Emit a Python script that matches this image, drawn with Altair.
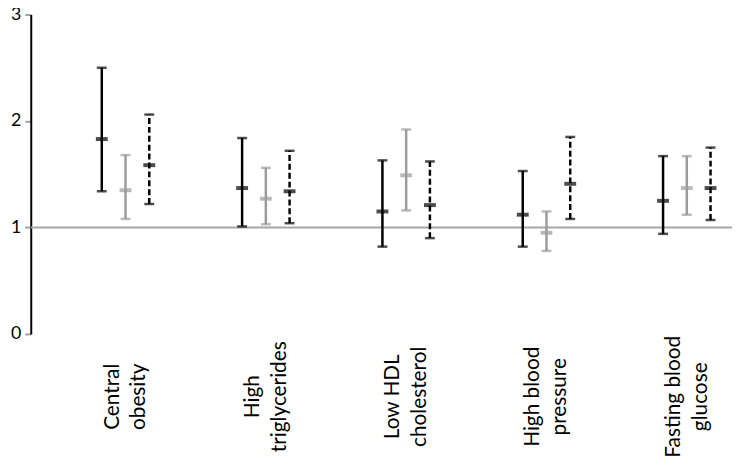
import altair as alt
import pandas as pd

categories = ["Central\nobesity", "High\ntriglycerides", "Low HDL\ncholesterol",
              "High blood\npressure", "Fasting blood\nglucose"]
series = ["Series 1", "Series 2", "Series 3"]

# point estimate, lower, upper for each series
s1_mid = [1.83, 1.37, 1.15, 1.12, 1.25]
s1_lo = [1.34, 1.01, 0.82, 0.82, 0.94]
s1_hi = [2.50, 1.84, 1.63, 1.53, 1.67]

s2_mid = [1.35, 1.27, 1.49, 0.95, 1.37]
s2_lo = [1.08, 1.03, 1.16, 0.78, 1.12]
s2_hi = [1.68, 1.56, 1.92, 1.15, 1.67]

s3_mid = [1.585, 1.34, 1.21, 1.41, 1.37]
s3_lo = [1.22, 1.04, 0.90, 1.08, 1.07]
s3_hi = [2.06, 1.72, 1.62, 1.85, 1.75]

reference_value = [1]
y_ticks = [0, 1, 2, 3]

rows = []
for name, mids, los, his in [(series[0], s1_mid, s1_lo, s1_hi),
                             (series[1], s2_mid, s2_lo, s2_hi),
                             (series[2], s3_mid, s3_lo, s3_hi)]:
    for c, m, l, h in zip(categories, mids, los, his):
        rows.append({"category": c, "series": name, "mid": m, "lo": l, "hi": h})
df = pd.DataFrame(rows)

FONT = "Lato"
colors = ["#000000", "#9b9b9b", "#000000"]

x_enc = alt.X("category:N", sort=categories, title=None,
              scale=alt.Scale(range=[0, 759], paddingOuter=0.175, paddingInner=0),
              axis=alt.Axis(labelAngle=270, labelAlign="center", labelBaseline="middle",
                            labelPadding=63, labelFontSize=21, labelFont=FONT,
                            labelColor="#000000", labelLineHeight=27, labelOffset=-13,
                            labelExpr="split(datum.label, '\\n')",
                            domain=False, ticks=False, labelOverlap=False))
xo_enc = alt.XOffset("series:N", sort=series,
                     scale=alt.Scale(range=[35, 107], paddingOuter=0, paddingInner=0))
col_enc = alt.Color("series:N", sort=series,
                    scale=alt.Scale(domain=series, range=colors), legend=None)
y_scale = alt.Scale(domain=[0, 3])
y_axis = alt.Axis(values=y_ticks, grid=False, domainColor="#000000", domainWidth=2,
                  tickColor="#a0a0a0", tickWidth=2, tickSize=6, labelPadding=4,
                  labelFontSize=18, labelFont=FONT, labelColor="#000000", format="d")

base = alt.Chart(df).encode(x=x_enc, xOffset=xo_enc, color=col_enc)

ref = alt.Chart(pd.DataFrame({"ref": reference_value})).mark_rule(
    color="#a6a6a6", strokeWidth=2).encode(
    y=alt.Y("ref:Q", scale=y_scale, axis=y_axis, title=None))

bars = base.mark_rule(strokeWidth=2.5).encode(
    y=alt.Y("lo:Q", scale=y_scale, axis=y_axis, title=None),
    y2="hi:Q",
    strokeDash=alt.StrokeDash("series:N", sort=series,
                              scale=alt.Scale(domain=series, range=[[1, 0], [1, 0], [6, 3]]),
                              legend=None))

cap_lo = base.mark_tick(size=10, thickness=2.5).encode(
    y=alt.Y("lo:Q", scale=y_scale, title=None))
cap_hi = base.mark_tick(size=10, thickness=2.5).encode(
    y=alt.Y("hi:Q", scale=y_scale, title=None))
center = base.mark_tick(size=12, thickness=4).encode(
    y=alt.Y("mid:Q", scale=y_scale, title=None))

chart = alt.layer(ref, bars, cap_lo, cap_hi, center).properties(
    width=709, height=323,
    autosize=alt.AutoSizeParams(type="none"),
    padding={"left": 23, "top": 4, "right": 0, "bottom": 136},
).configure_view(stroke=None)

chart.save("out.html", embed_options={"renderer": "svg", "actions": False})
